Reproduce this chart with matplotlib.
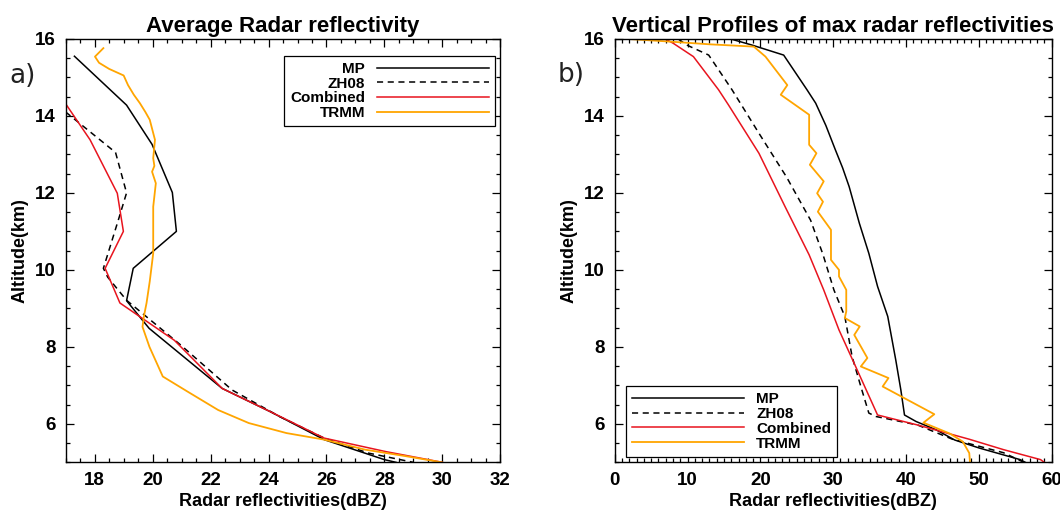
import matplotlib
matplotlib.use("Agg")
import matplotlib.pyplot as plt
from matplotlib.ticker import MultipleLocator

plt.rcParams["font.family"] = ["Liberation Sans", "DejaVu Sans"]

RED = "#e8141e"
ORANGE = "#ffa500"

# ---- a) Average radar reflectivity ----
mp_a_x = [17.3, 19.1, 19.98, 20.68, 20.82, 19.33, 19.1, 19.88, 22.4, 24.05, 25.92, 28.0, 28.4]
mp_a_y = [15.55, 14.28, 13.26, 12.01, 11.0, 10.04, 9.2, 8.48, 6.92, 6.32, 5.59, 5.07, 5.0]

zh_a_x = [17.0, 18.72, 19.1, 18.83, 18.3, 18.45, 19.1, 20.98, 22.74, 24.38, 25.92, 27.45, 29.0]
zh_a_y = [14.1, 13.05, 12.0, 11.33, 10.04, 9.81, 9.21, 8.04, 6.88, 6.19, 5.63, 5.24, 5.0]

cb_a_x = [17.02, 17.84, 18.78, 18.99, 18.36, 18.87, 20.75, 22.4, 24.05, 25.92, 28.04, 30.0]
cb_a_y = [14.29, 13.38, 11.99, 11.0, 10.04, 9.14, 8.17, 6.92, 6.32, 5.63, 5.28, 5.0]

tr_a_x = [18.3, 18.01, 18.15, 18.5, 19.0, 19.15, 19.35, 19.56, 19.75, 19.9, 20.08, 20.02, 20.06,
          19.98, 20.11, 20.02, 20.02, 19.9, 19.79, 19.7, 19.65, 19.89, 20.35, 21.2, 22.26, 23.32,
          24.62, 25.92, 27.33, 28.74, 29.98]
tr_a_y = [15.76, 15.54, 15.38, 15.22, 15.05, 14.8, 14.55, 14.33, 14.1, 13.9, 13.38, 12.9, 12.7,
          12.55, 12.25, 11.64, 10.43, 9.7, 9.14, 8.8, 8.52, 8.0, 7.23, 6.84, 6.36, 6.02, 5.76,
          5.59, 5.33, 5.16, 5.0]

# ---- b) Vertical profiles of max radar reflectivities ----
mp_b_x = [15.9, 18.85, 23.2, 26.4, 27.6, 29.0, 30.3, 31.3, 32.2, 33.6, 34.9, 36.1, 37.5, 38.6,
          39.3, 39.8, 41.4, 44.1, 46.7, 50.1, 55.7, 56.4]
mp_b_y = [16.0, 15.84, 15.58, 14.68, 14.33, 13.75, 13.12, 12.65, 12.16, 11.21, 10.43, 9.57,
          8.79, 7.66, 6.88, 6.23, 6.06, 5.85, 5.58, 5.37, 5.07, 5.0]

zh_b_x = [8.7, 9.9, 12.9, 16.1, 19.8, 23.6, 26.9, 28.6, 30.1, 31.6, 32.6, 33.8, 34.9, 35.9,
          41.6, 46.4, 53.4, 56.2]
zh_b_y = [16.0, 15.84, 15.58, 14.68, 13.55, 12.41, 11.29, 10.4, 9.48, 8.79, 7.75, 6.97, 6.28,
          6.19, 5.97, 5.6, 5.25, 5.0]

cb_b_x = [6.9, 8.0, 10.8, 14.25, 15.6, 19.8, 23.4, 26.7, 28.7, 30.8, 33.3, 36.1, 41.6, 48.7,
          53.4, 58.5, 59.0]
cb_b_y = [16.0, 15.89, 15.54, 14.68, 14.29, 13.03, 11.64, 10.39, 9.48, 8.44, 7.4, 6.23, 5.97,
          5.6, 5.33, 5.07, 5.0]

tr_b_x = [0.0, 7.6, 13.0, 19.1, 20.7, 23.7, 22.8, 26.7, 26.7, 27.7, 26.8, 28.7, 27.8, 28.6,
          27.9, 29.7, 29.7, 30.8, 30.8, 31.8, 31.8, 31.6, 33.65, 32.9, 34.7, 33.8, 37.6, 36.8,
          43.9, 42.4, 46.0, 47.8, 48.7, 48.8]
tr_b_y = [16.02, 15.93, 15.86, 15.8, 15.54, 14.8, 14.55, 14.03, 13.25, 13.03, 12.73, 12.3,
          11.99, 11.77, 11.51, 11.04, 10.26, 10.0, 9.83, 9.48, 8.92, 8.75, 8.53, 8.31, 7.71,
          7.49, 7.19, 6.97, 6.25, 6.03, 5.75, 5.54, 5.24, 5.0]

SERIES = ["MP", "ZH08", "Combined", "TRMM"]


def style_axes(ax, xmaj, xmin):
    ax.xaxis.set_major_locator(MultipleLocator(xmaj))
    ax.xaxis.set_minor_locator(MultipleLocator(xmin))
    ax.yaxis.set_major_locator(MultipleLocator(2))
    ax.yaxis.set_minor_locator(MultipleLocator(0.5))
    ax.tick_params(which="both", direction="in", top=True, right=True,
                   labelsize=13.5, pad=7, width=0.9)
    ax.tick_params(which="major", length=6)
    ax.tick_params(which="minor", length=3)
    for lab in ax.get_xticklabels() + ax.get_yticklabels():
        lab.set_fontweight("bold")
    for sp in ax.spines.values():
        sp.set_linewidth(1.0)
    ax.set_ylim(5, 16)
    ax.set_xlabel("Radar reflectivities(dBZ)", fontsize=13, fontweight="bold", labelpad=3)
    ax.set_ylabel("Altitude(km)", fontsize=13, fontweight="bold", labelpad=5)


def draw(ax, data):
    (mx, my), (zx, zy), (cx, cy), (tx, ty) = data
    lines = [
        ax.plot(mx, my, color="black", lw=1.1)[0],
        ax.plot(zx, zy, color="black", lw=1.1, ls=(0, (4, 3)))[0],
        ax.plot(cx, cy, color=RED, lw=1.1)[0],
        ax.plot(tx, ty, color=ORANGE, lw=1.3)[0],
    ]
    return lines


def main() -> None:
    fig = plt.figure(figsize=(10.6, 5.12), dpi=100)
    ax1 = fig.add_axes([0.062, 0.097, 0.410, 0.827])
    ax2 = fig.add_axes([0.580, 0.097, 0.412, 0.827])

    h1 = draw(ax1, [(mp_a_x, mp_a_y), (zh_a_x, zh_a_y), (cb_a_x, cb_a_y), (tr_a_x, tr_a_y)])
    ax1.set_xlim(17, 32)
    style_axes(ax1, 2, 0.5)
    ax1.set_title("Average Radar reflectivity", fontsize=16, fontweight="bold", pad=5)
    leg1 = ax1.legend(h1, SERIES, loc="upper right", bbox_to_anchor=(0.988, 0.96),
                      borderaxespad=0, markerfirst=False, fancybox=False, framealpha=1,
                      edgecolor="black", handlelength=7.3, handletextpad=0.8,
                      labelspacing=0.05, borderpad=0.4,
                      prop={"size": 11, "weight": "bold"})
    leg1.get_frame().set_linewidth(0.9)

    h2 = draw(ax2, [(mp_b_x, mp_b_y), (zh_b_x, zh_b_y), (cb_b_x, cb_b_y), (tr_b_x, tr_b_y)])
    ax2.set_xlim(0, 60)
    style_axes(ax2, 10, 1)
    ax2.set_title("Vertical Profiles of max radar reflectivities", fontsize=16,
                  fontweight="bold", pad=5)
    leg2 = ax2.legend(h2, SERIES, loc="lower left", bbox_to_anchor=(0.026, 0.0135),
                      borderaxespad=0, fancybox=False, framealpha=1, edgecolor="black",
                      handlelength=7.3, handletextpad=0.8, labelspacing=0.05,
                      borderpad=0.4, prop={"size": 11, "weight": "bold"})
    leg2.get_frame().set_linewidth(0.9)

    fig.text(23 / 1060, 1 - 76 / 512, "a)", fontsize=19, ha="center", va="center",
             color="#222222", family="DejaVu Sans")
    fig.text(571 / 1060, 1 - 75 / 512, "b)", fontsize=19, ha="center", va="center",
             color="#222222", family="DejaVu Sans")

    fig.savefig("out.png", dpi=100)


if __name__ == "__main__":
    main()
